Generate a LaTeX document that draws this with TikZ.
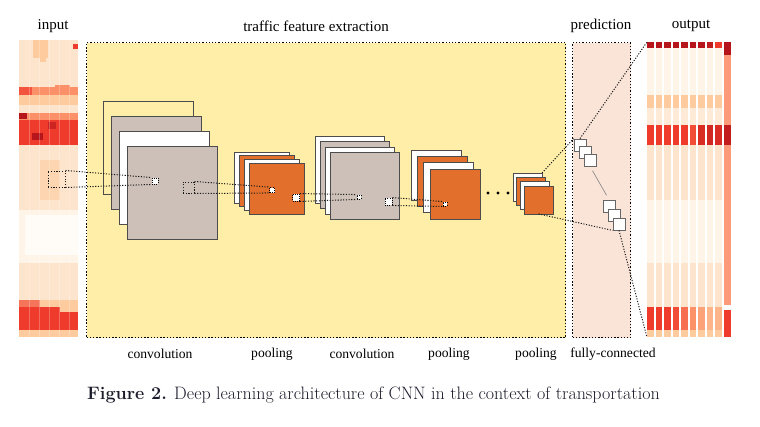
\documentclass[tikz,border=0pt]{standalone}
\usepackage{fontspec}
\newfontfamily\timesfont{Liberation Serif}
\usetikzlibrary{positioning,calc}

\definecolor{featyellow}{HTML}{FFEEA8}
\definecolor{predpeach}{HTML}{FAE4D8}
\definecolor{convgrey}{HTML}{CDC0B8}
\definecolor{poolorange}{HTML}{E2702C}
\definecolor{capink}{HTML}{1C1C2C}
\definecolor{hmA}{HTML}{FFF4E8}
\definecolor{hmB}{HTML}{FDE4CC}
\definecolor{hmC}{HTML}{FDCB9E}
\definecolor{hmD}{HTML}{FC9068}
\definecolor{hmE}{HTML}{EF3B2C}
\definecolor{hmF}{HTML}{B5151B}
\definecolor{hmS}{HTML}{FC9A7A}

\tikzset{
    sheet/.style={draw=black!70, line width=0.8pt, inner sep=0pt, outer sep=0pt, anchor=north west},
    field/.style={draw=black, dash pattern=on 1pt off 1.2pt, line width=0.9pt, fill=white, inner sep=0pt, minimum size=#1},
    fcunit/.style={draw=black!60, fill=white, line width=0.8pt, inner sep=0pt, minimum size=12pt},
    frame/.style={draw=black, dash pattern=on 1.3pt off 1.9pt, line width=1.3pt, inner sep=0pt, anchor=north west, minimum height=295pt},
    link/.style={dash pattern=on 1.1pt off 1.6pt, line width=1pt, draw=black!90},
    toplab/.style={font=\timesfont\fontsize{15}{18}\selectfont},
    botlab/.style={font=\timesfont\fontsize{13.6}{16}\selectfont},
}

\begin{document}
\begin{tikzpicture}[x=1pt, y=-1pt]
    \useasboundingbox (0,0) rectangle (760,426);

    % input heat map
    \node[inner sep=0pt, minimum width=59pt, minimum height=297pt, anchor=north west] (inmap) at (19,40) {};
    \foreach \ya/\yb/\c in {40/87/hmB, 87/95/hmD, 95/105/hmC, 105/113/hmB, 113/120/hmD, 120/145/hmE,
                            145/210/hmB, 210/263/hmA, 263/300/hmB, 300/307/hmC, 307/330/hmE, 330/337/hmC}
        \fill[\c] (19,\ya) rectangle (78,\yb);
    \foreach \xa/\ya/\xb/\yb/\c in {33/40/48/58/hmC, 40/55/46/62/hmC, 73/44/78/49/hmE, 19/87/32/95/hmE!70!hmD,
                                    55/85/70/91/hmD, 19/113/27/119/hmF, 32/133/43/140/hmF, 48/122/56/129/hmF!60!hmE,
                                    40/160/60/200/hmC!60!hmB, 25/215/78/255/white!60!hmA, 19/300/40/307/hmE!60!hmC,
                                    60/307/78/312/hmC}
        \fill[\c] (\xa,\ya) rectangle (\xb,\yb);
    \foreach \x in {29,39,49,59,69}
        \draw[white, opacity=0.25, line width=0.6pt] (\x,40) -- (\x,337);

    % output heat map
    \node[inner sep=0pt, minimum width=84pt, minimum height=295pt, anchor=north west] (outmap) at (647,42) {};
    \foreach \i/\ct/\cm/\cb in {0/hmF/hmE/hmE, 1/hmF/hmE/hmE, 2/hmF/hmE/hmE, 3/hmF/hmE/hmE!80!hmD,
                                4/hmF/hmE/hmD!60!hmE, 5/hmF/hmE!80!hmD/hmD, 6/hmF/hmE!60!hmF/hmD!70!hmC,
                                7/hmF!80!hmE/hmE!50!hmF/hmC!60!hmD, 8/hmE/hmE!60!hmF/hmC!60!hmD} {
        \pgfmathsetmacro\xa{647+8.5*\i}
        \foreach \ya/\yb/\c in {42/48/\ct, 48/95/hmA, 95/108/hmC, 108/125/hmB!60!hmA, 125/145/\cm,
                                145/200/hmB, 200/263/hmA, 263/307/hmB, 307/330/\cb, 330/337/hmC}
            \fill[\c] (\xa,\ya) rectangle ++(6.8,\yb-\ya);
    }
    \foreach \ya/\yb/\c in {42/55/hmF, 55/125/hmS, 125/145/hmF!80!hmE, 145/305/hmS, 310/337/hmE}
        \fill[\c] (723.5,\ya) rectangle (730.5,\yb);

    % frames
    \node[frame, fill=featyellow, minimum width=479pt] (feat) at (86,42) {};
    \node[frame, fill=predpeach, minimum width=58pt] (pred) at (572,42) {};

    % feature maps
    \foreach \k/\c in {0/featyellow,1/convgrey,2/white,3/convgrey}
        \node[sheet, fill=\c, minimum width=90pt, minimum height=93pt] (cA\k) at (103+8*\k,101+15*\k) {};
    \foreach \k/\c in {0/white,1/poolorange,2/white,3/poolorange}
        \node[sheet, fill=\c, minimum width=55pt, minimum height=51pt] (pA\k) at (234+5*\k,152+3.8*\k) {};
    \foreach \k/\c in {0/white,1/convgrey,2/white,3/convgrey}
        \node[sheet, fill=\c, minimum width=69pt, minimum height=67pt] (cB\k) at (315+5*\k,136+5.6*\k) {};
    \foreach \k/\c in {0/white,1/poolorange,2/white,3/poolorange}
        \node[sheet, fill=\c, minimum width=50pt, minimum height=50pt] (pB\k) at (411+6.3*\k,150+6.3*\k) {};
    \foreach \x in {488,498,508}
        \fill (\x,193) circle (1.6pt);
    \foreach \k/\c in {0/white,1/poolorange,2/white,3/poolorange}
        \node[sheet, fill=\c, minimum width=29pt, minimum height=28pt] (pC\k) at (513+3.7*\k,173+4.3*\k) {};

    % receptive fields
    \node[draw, link, minimum width=17pt, minimum height=16pt, inner sep=0pt] (rIn) at (56.5,179) {};
    \node[field=6pt] (rA) at (155,181) {};
    \draw[link] (rIn.north east) -- (rA.north west);
    \draw[link] (rIn.south east) -- (rA.south west);
    \node[draw, link, minimum size=11pt, inner sep=0pt] (rB) at (188.5,187.5) {};
    \node[field=5pt] (rC) at (272,190) {};
    \draw[link] (rB.north east) -- (rC.north west);
    \draw[link] (rB.south east) -- (rC.south west);
    \node[field=7pt] (rD) at (296,197.5) {};
    \node[field=4pt] (rE) at (359,197) {};
    \draw[link] (rD.north east) -- (rE.north west);
    \draw[link] (rD.south east) -- (rE.south west);
    \node[field=7pt] (rF) at (388.5,201.5) {};
    \node[field=4pt] (rG) at (445,204) {};
    \draw[link] (rF.north east) -- (rG.north west);
    \draw[link] (rF.south east) -- (rG.south west);

    % fully-connected units
    \foreach \k in {1,2,3} {
        \node[fcunit] (fcA\k) at (580+5*\k-5,145+7.5*\k-7.5) {};
    }
    \foreach \k in {1,2,3} {
        \node[fcunit] (fcB\k) at (609+5*\k-5,206+9*\k-9) {};
    }
    \draw[gray, line width=0.6pt, shorten <=5pt, shorten >=5pt] (fcA3.south) -- (fcB1.north);
    \draw[link] (pC0.north east) -- (fcA1.north west);
    \draw[link] (fcA1.north) -- (outmap.north west);
    \draw[link] (pC3.south) -- (fcB3.south west);
    \draw[link] (fcB3.south) -- (outmap.south west);

    % labels
    \node[toplab] (inlab) at (53,26) {input};
    \node[toplab] (featlab) at (316,26) {traffic feature extraction};
    \node[toplab] (predlab) at (601,26) {prediction};
    \node[toplab] (outlab) at (691,26) {output};
    \foreach \x/\t [count=\n] in {160/convolution, 272/pooling, 362/convolution, 449/pooling, 536/pooling, 613/fully-connected}
        \node[botlab] (stage\n) at (\x,354) {\t};
    \node[font=\fontsize{18}{21}\selectfont, text=capink, anchor=west, inner sep=0pt] (cap) at (87,395)
        {\textbf{Figure 2.} Deep learning architecture of CNN in the context of transportation};
\end{tikzpicture}
\end{document}
